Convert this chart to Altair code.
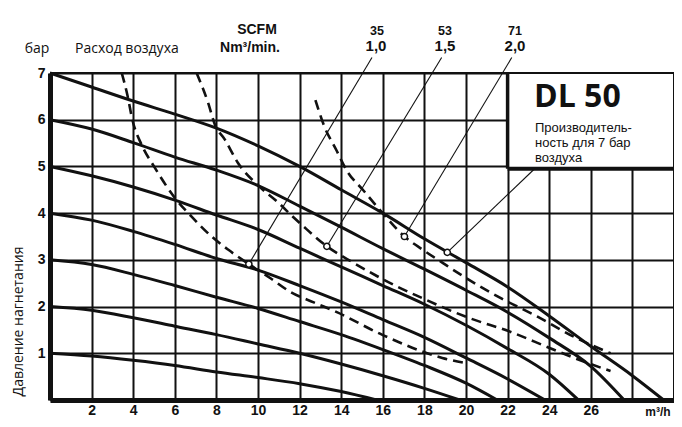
import altair as alt
import pandas as pd

# ---------- data ----------
# solid curves: pump delivery head (bar) vs flow (m3/h) for air pressures 1..7 bar
p1_flow = [0, 2, 4, 6, 8, 10, 12, 14, 15.7]
p1_head = [1, 0.94, 0.85, 0.74, 0.6, 0.48, 0.35, 0.18, 0]
p2_flow = [0, 2, 4, 6, 8, 10, 12, 14, 16, 18, 19.7]
p2_head = [2, 1.92, 1.76, 1.58, 1.4, 1.2, 1.0, 0.77, 0.52, 0.25, 0]
p3_flow = [0, 2, 4, 6, 8, 10, 12, 14, 16, 18, 20, 21.5]
p3_head = [3, 2.9, 2.69, 2.45, 2.2, 1.96, 1.68, 1.4, 1.08, 0.74, 0.36, 0]
p4_flow = [0, 2, 4, 6, 8, 10, 12, 14, 16, 18, 20, 22, 23.8]
p4_head = [4, 3.85, 3.61, 3.33, 3.03, 2.78, 2.45, 2.1, 1.72, 1.34, 0.9, 0.45, 0]
p5_flow = [0, 2, 4, 6, 8, 10, 12, 14, 16, 18, 20, 22, 24, 25.4]
p5_head = [5, 4.8, 4.56, 4.28, 3.96, 3.65, 3.25, 2.85, 2.45, 2.05, 1.6, 1.1, 0.55, 0]
p6_flow = [0, 2, 4, 6, 8, 10, 12, 14, 16, 18, 20, 22, 24, 26, 27.6]
p6_head = [6, 5.8, 5.51, 5.2, 4.92, 4.59, 4.15, 3.7, 3.24, 2.8, 2.35, 1.88, 1.33, 0.72, 0]
p7_flow = [0, 2, 4, 6, 8, 10, 12, 14, 16, 18, 20, 22, 24, 26, 28, 29.5]
p7_head = [7, 6.7, 6.4, 6.12, 5.82, 5.44, 5.0, 4.5, 4.0, 3.45, 2.94, 2.42, 1.8, 1.15, 0.52, 0]

# dashed curves: air consumption 1.0 / 1.5 / 2.0 Nm3/min
a10_flow = [3.45, 3.72, 3.96, 4.43, 5.0, 6.05, 6.82, 7.77, 8.56, 9.56, 10.62, 11.57, 12.68, 13.79, 16.0, 18.86, 20.1]
a10_head = [7.0, 6.53, 6.0, 5.44, 5.0, 4.3, 3.92, 3.5, 3.22, 2.91, 2.6, 2.31, 2.09, 1.88, 1.39, 0.9, 0.78]
a15_flow = [7.05, 7.61, 7.93, 8.4, 9.03, 9.99, 10.94, 11.73, 12.2, 13.31, 14.58, 15.69, 16.64, 17.9, 18.7, 20.13, 22.19, 23.93, 25.2, 26.95]
a15_head = [7.0, 6.35, 5.89, 5.58, 5.08, 4.6, 4.24, 3.9, 3.71, 3.29, 2.94, 2.66, 2.44, 2.18, 2.02, 1.76, 1.45, 1.13, 0.9, 0.62]
a20_flow = [12.76, 13.16, 13.79, 14.27, 15.06, 16.01, 17.04, 17.91, 18.86, 19.97, 21.72, 23.46, 25.2, 26.95]
a20_head = [6.42, 5.89, 5.33, 4.91, 4.49, 3.99, 3.5, 3.22, 2.94, 2.62, 2.17, 1.78, 1.35, 1.0]

# leader lines: label end -> marked point on a curve
lead_from_flow = [15.48, 18.83, 22.2, 23.3]
lead_from_head = [7.33, 7.33, 7.33, 4.95]
lead_to_flow = [9.56, 13.31, 17.04, 19.1]
lead_to_head = [2.91, 3.29, 3.5, 3.16]

x_ticks = list(range(0, 31, 2))
y_ticks = list(range(0, 8))

box_lines = ["Производитель-", "ность для 7 бар", "воздуха"]

# ---------- tables ----------
solid = pd.concat([
    pd.DataFrame({"flow": f, "head": h, "curve": name})
    for f, h, name in [
        (p1_flow, p1_head, "1 bar"), (p2_flow, p2_head, "2 bar"), (p3_flow, p3_head, "3 bar"),
        (p4_flow, p4_head, "4 bar"), (p5_flow, p5_head, "5 bar"), (p6_flow, p6_head, "6 bar"),
        (p7_flow, p7_head, "7 bar"),
    ]
])
dashed = pd.concat([
    pd.DataFrame({"flow": f, "head": h, "curve": name})
    for f, h, name in [(a10_flow, a10_head, "1.0"), (a15_flow, a15_head, "1.5"), (a20_flow, a20_head, "2.0")]
])
leaders = pd.DataFrame({"x1": lead_from_flow, "y1": lead_from_head, "x2": lead_to_flow, "y2": lead_to_head})
box = pd.DataFrame({"x1": [22], "x2": [30], "y1": [4.95], "y2": [7]})

INK = "#111111"
W, H = 624, 327
xs = alt.Scale(domain=[0, 30], nice=False, zero=False)
ys = alt.Scale(domain=[0, 7], nice=False)

x_axis = alt.Axis(
    values=x_ticks, grid=True, gridColor=INK, gridWidth=2, gridOpacity=1, ticks=False,
    domainColor=INK, domainWidth=5, labelFont="Liberation Sans", labelFontWeight="bold",
    labelFontSize=14, labelColor=INK, labelPadding=3,
    labelExpr="datum.value >= 2 && datum.value <= 26 ? datum.label : ''", title=None,
)
y_axis = alt.Axis(
    values=y_ticks, grid=True, gridColor=INK, gridWidth=2, gridOpacity=1, ticks=False,
    domainColor=INK, domainWidth=5, labelFont="Liberation Sans", labelFontWeight="bold",
    labelFontSize=14, labelColor=INK, labelPadding=5,
    labelExpr="datum.value >= 1 ? datum.label : ''",
    title="Давление нагнетания", titleFont="Open Sans", titleFontSize=14, titleFontWeight="normal",
    titleColor=INK, titleAngle=270, titleX=-32, titleY=248, titleAlign="center", titleBaseline="middle",
)

solid_layer = alt.Chart(solid).mark_line(color=INK, strokeWidth=3, interpolate="monotone").encode(
    x=alt.X("flow:Q", scale=xs, axis=x_axis),
    y=alt.Y("head:Q", scale=ys, axis=y_axis),
    detail="curve:N",
)
dashed_layer = alt.Chart(dashed).mark_line(
    color=INK, strokeWidth=2.6, strokeDash=[10, 6], interpolate="monotone"
).encode(
    x=alt.X("flow:Q", scale=xs),
    y=alt.Y("head:Q", scale=ys),
    detail="curve:N",
)
box_rect = alt.Chart(box).mark_rect(fill="white").encode(
    x=alt.X("x1:Q", scale=xs), x2="x2:Q", y=alt.Y("y1:Q", scale=ys), y2="y2:Q"
)
box_left = alt.Chart(box).mark_rule(color=INK, strokeWidth=3.5).encode(
    x=alt.X("x1:Q", scale=xs), y=alt.Y("y1:Q", scale=ys), y2="y2:Q"
)
box_bottom = alt.Chart(box).mark_rule(color=INK, strokeWidth=4).encode(
    x=alt.X("x1:Q", scale=xs), x2="x2:Q", y=alt.Y("y1:Q", scale=ys)
)
border_top = alt.Chart(box).mark_rule(color=INK, strokeWidth=2).encode(
    x=alt.value(0), x2=alt.value(W), y=alt.Y("y2:Q", scale=ys)
)
border_right = alt.Chart(box).mark_rule(color=INK, strokeWidth=2).encode(
    x=alt.X("x2:Q", scale=xs), y=alt.value(0), y2=alt.value(H)
)
leader_layer = alt.Chart(leaders).mark_rule(color=INK, strokeWidth=1.1).encode(
    x=alt.X("x1:Q", scale=xs), y=alt.Y("y1:Q", scale=ys), x2="x2:Q", y2="y2:Q"
)
marker_layer = alt.Chart(leaders).mark_point(
    shape="circle", filled=True, fill="white", stroke=INK, strokeWidth=1.5, size=38, opacity=1
).encode(x=alt.X("x2:Q", scale=xs), y=alt.Y("y2:Q", scale=ys))


def label(text, x, y, size=14, weight="normal", font="Open Sans", align="center", line_height=None):
    kw = {}
    if line_height is not None:
        kw["lineHeight"] = line_height
    return alt.Chart(box).mark_text(
        text=text, font=font, fontSize=size, fontWeight=weight, color=INK, align=align,
        baseline="alphabetic", **kw
    ).encode(x=alt.value(x), y=alt.value(y))


texts = [
    label("SCFM", 207, -39, size=14, weight="bold", font="Liberation Sans"),
    label("Nm³/min.", 200, -21, size=14, weight="bold", font="Liberation Sans"),
    label("бар", -13, -20, size=14),
    label("Расход воздуха", 25, -20, size=14, align="left"),
    label("35", 327, -38, size=12.5, weight="bold", font="Liberation Sans"),
    label("53", 395, -38, size=12.5, weight="bold", font="Liberation Sans"),
    label("71", 465, -38, size=12.5, weight="bold", font="Liberation Sans"),
    label("1,0", 326, -22, size=15, weight="bold", font="Liberation Sans"),
    label("1,5", 395, -22, size=15, weight="bold", font="Liberation Sans"),
    label("2,0", 465, -22, size=15, weight="bold", font="Liberation Sans"),
    label("m³/h", 608, 343, size=12, weight="bold", font="Liberation Sans"),
    label("DL 50", 484, 34, size=32, weight="bold", align="left"),
    label(box_lines, 485, 59, size=13, font="Liberation Sans", align="left", line_height=15),
]

chart = alt.layer(
    solid_layer, dashed_layer, box_rect, box_left, box_bottom, border_top, border_right,
    leader_layer, marker_layer, *texts,
).properties(
    width=W, height=H,
    autosize=alt.AutoSizeParams(type="none"),
    padding={"left": 42, "top": 65, "right": 0, "bottom": 19},
).configure_view(stroke=None).configure(background="white")

chart.save("out.html", embed_options={"renderer": "svg", "actions": False})
